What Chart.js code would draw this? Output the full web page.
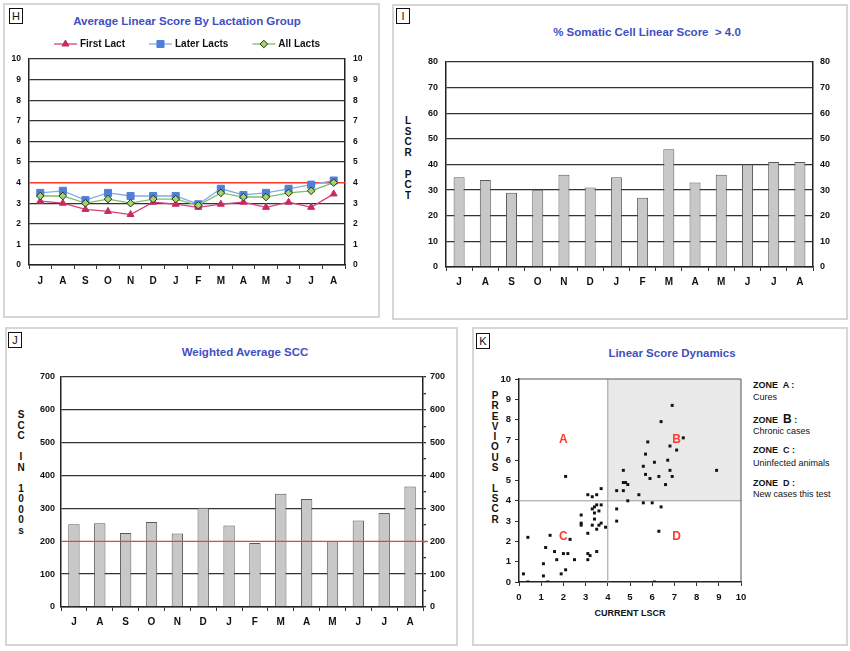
<!DOCTYPE html>
<html>
<head>
<meta charset="utf-8">
<title>Somatic cell summary</title>
<script src="https://cdn.jsdelivr.net/npm/chart.js@4.4.1/dist/chart.umd.min.js"></script>
<style>
  html, body { margin: 0; padding: 0; background: #fff; }
  body { position: relative; width: 850px; height: 651px; overflow: hidden; font-family: "Liberation Sans", Arial, sans-serif; }
  .panel { position: absolute; border: 2px solid #d6d6d6; box-sizing: border-box; }
  .tag { position: absolute; width: 14px; height: 16px; border: 1px solid #111; box-sizing: border-box;
         font-size: 11px; line-height: 14px; text-align: center; color: #111; }
  .title { position: absolute; text-align: center; font-size: 11.5px; font-weight: bold; color: #3f4fc2;
           line-height: 14px; white-space: nowrap; }
  .vlab { position: absolute; width: 20px; text-align: center; font-size: 10px; font-weight: bold; color: #111; }
  .txt { position: absolute; font-size: 9px; line-height: 12px; color: #111; white-space: nowrap; }
  .txt b { font-weight: bold; }
  canvas { position: absolute; }
</style>
</head>
<body>

<div class="panel" style="left:3px;top:3px;width:377px;height:315px"></div>
<div class="panel" style="left:392px;top:4px;width:456px;height:316px"></div>
<div class="panel" style="left:5px;top:327px;width:453px;height:319px"></div>
<div class="panel" style="left:472px;top:327px;width:376px;height:319px"></div>

<div class="tag" style="left:9px;top:8px">H</div>
<div class="tag" style="left:396px;top:8px">I</div>
<div class="tag" style="left:8px;top:332px">J</div>
<div class="tag" style="left:476px;top:333px">K</div>

<div class="title" style="left:0;width:374px;top:14px">Average Linear Score By Lactation Group</div>
<div class="title" style="left:447px;width:400px;top:25px">% Somatic Cell Linear Score&nbsp; &gt; 4.0</div>
<div class="title" style="left:45px;width:400px;top:345px">Weighted Average SCC</div>
<div class="title" style="left:572px;width:200px;top:346px">Linear Score Dynamics</div>

<div class="vlab" style="left:398px;top:116px;line-height:10.7px">L<br>S<br>C<br>R<br><br>P<br>C<br>T</div>
<div class="vlab" style="left:11px;top:410px;line-height:10.5px">S<br>C<br>C<br><br>I<br>N<br><br>1<br>0<br>0<br>0<br>s</div>
<div class="vlab" style="left:485px;top:391px;line-height:10.3px">P<br>R<br>E<br>V<br>I<br>O<br>U<br>S<br><br>L<br>S<br>C<br>R</div>

<div class="txt" style="left:560px;width:140px;top:607px;text-align:center"><b>CURRENT LSCR</b></div>
<div class="txt" style="left:753px;top:379px"><b>ZONE&nbsp; A :</b></div>
<div class="txt" style="left:753px;top:391px">Cures</div>
<div class="txt" style="left:753px;top:413px"><b>ZONE&nbsp; <span style="font-size:12px">B</span> :</b></div>
<div class="txt" style="left:753px;top:425px">Chronic cases</div>
<div class="txt" style="left:753px;top:444px"><b>ZONE&nbsp; C :</b></div>
<div class="txt" style="left:753px;top:457px">Uninfected animals</div>
<div class="txt" style="left:753px;top:477px"><b>ZONE&nbsp; D :</b></div>
<div class="txt" style="left:753px;top:488px">New cases this test</div>

<canvas id="chartH" width="380" height="320" style="left:0;top:0"></canvas>
<canvas id="chartI" width="460" height="320" style="left:390px;top:0"></canvas>
<canvas id="chartJ" width="460" height="331" style="left:0;top:320px"></canvas>
<canvas id="chartK" width="390" height="331" style="left:460px;top:320px"></canvas>

<script>
// Test months, July through the following August
const months = ['J', 'A', 'S', 'O', 'N', 'D', 'J', 'F', 'M', 'A', 'M', 'J', 'J', 'A'];

// H: average linear score by lactation group
const firstLact = [3.1, 3.0, 2.7, 2.6, 2.45, 3.05, 2.95, 2.8, 2.95, 3.05, 2.8, 3.05, 2.8, 3.45];
const laterLacts = [3.5, 3.6, 3.15, 3.5, 3.35, 3.35, 3.35, 2.95, 3.7, 3.4, 3.5, 3.7, 3.9, 4.1];
const allLacts = [3.35, 3.35, 3.0, 3.2, 3.0, 3.2, 3.2, 2.9, 3.5, 3.3, 3.3, 3.5, 3.6, 4.0];
const lsTarget = 4.0;

// I: percent of cows with linear score above 4.0
const lscrPct = [35, 34, 29, 30, 36, 31, 35, 27, 46, 33, 36, 40, 41, 41];

// J: weighted average SCC (1000s)
const sccAvg = [252, 255, 225, 259, 224, 302, 248, 195, 345, 329, 201, 263, 286, 367];
const sccTarget = 200;

// K: current vs previous linear score per cow
const currentLscr = [0.2, 0.4, 0.4, 1.1, 1.1, 1.2, 1.3, 1.4, 1.6, 1.7, 1.9, 2.0, 2.1, 2.1, 2.2, 2.3, 2.5, 2.8, 2.8, 2.8,
  3.1, 3.1, 3.1, 3.2, 3.1, 3.3, 3.3, 3.3, 3.4, 3.4, 3.4, 3.5, 3.5, 3.5, 3.5, 3.6, 3.6, 3.7, 3.7, 3.7,
  3.9, 4.4, 4.4, 4.4, 4.7, 4.7, 4.8, 4.7, 4.9, 4.9, 5.4, 5.6, 5.7, 5.7, 5.6, 5.8, 5.9, 6.0, 6.1, 6.1,
  6.3, 6.3, 6.4, 6.4, 6.6, 6.7, 6.8, 6.8, 6.9, 6.9, 7.1, 7.4, 8.9];
const previousLscr = [0.4, 0, 2.2, 0.9, 0.3, 1.7, 0, 2.3, 1.5, 1.1, 0.4, 1.4, 0.6, 5.2, 1.4, 2.1, 1.1, 3.3, 2.9, 2.8,
  4.3, 2.4, 1.4, 1.3, 1.1, 4.2, 3.6, 2.8, 3.7, 3.4, 3.1, 4.3, 3.8, 2.6, 1.5, 3.5, 2.8, 4.6, 3.8, 2.9,
  2.7, 4.5, 3.6, 3.0, 5.5, 4.9, 4.9, 4.5, 4.8, 4.0, 4.3, 5.7, 6.3, 5.3, 3.9, 6.9, 5.1, 3.9, 5.9, 0,
  5.2, 2.5, 7.9, 3.7, 4.8, 6.0, 6.7, 5.5, 5.2, 8.7, 6.5, 7.1, 5.5];
const zoneLimit = 4;
const zoneNames = ['A', 'B', 'C', 'D'];

const FONT = '"Liberation Sans", Arial, sans-serif';
const INK = '#111';
const GRID = '#333';
const RED = '#ff3b2b';

function tickFont(size) {
    return { family: FONT, size: size, weight: 'bold' };
}

// category axis with small ticks between the months
function monthAxis(height, pad) {
    return {
        type: 'category',
        offset: true,
        grid: { drawOnChartArea: false, drawTicks: true, tickLength: 4, offset: true, color: GRID, lineWidth: 1 },
        border: { display: true, color: '#222', width: 1.5 },
        ticks: { color: INK, font: tickFont(10), padding: pad, maxRotation: 0, autoSkip: false },
        afterFit: function(scale) { scale.height = height; }
    };
}

// value axis; the left one draws the horizontal grid
function valueAxis(position, max, step, width, size, pad, gridColor) {
    return {
        type: 'linear',
        position: position,
        min: 0,
        max: max,
        grid: {
            drawOnChartArea: position === 'left',
            drawTicks: false,
            color: gridColor || GRID,
            lineWidth: 1.3
        },
        border: { display: true, color: '#222', width: 1.5 },
        ticks: { stepSize: step, color: INK, font: tickFont(size), padding: pad },
        afterFit: function(scale) { scale.width = width; }
    };
}

// horizontal reference line (target value)
const targetLine = {
    id: 'targetLine',
    beforeDatasetsDraw(chart, args, opts) {
        if (!opts.onTop) drawTarget(chart, opts);
    },
    afterDatasetsDraw(chart, args, opts) {
        if (opts.onTop) drawTarget(chart, opts);
    }
};

function drawTarget(chart, opts) {
    const area = chart.chartArea;
    const y = chart.scales.y.getPixelForValue(opts.value);
    const ctx = chart.ctx;
    ctx.save();
    ctx.strokeStyle = RED;
    ctx.lineWidth = 1.3;
    ctx.beginPath();
    ctx.moveTo(area.left, y);
    ctx.lineTo(area.right + (opts.extend || 0), y);
    ctx.stroke();
    ctx.restore();
}

// legend with a short line through the marker, as in the source sheet
const lineLegend = {
    id: 'lineLegend',
    afterDraw(chart, args, opts) {
        const ctx = chart.ctx;
        const y = opts.y;
        const gap = 24;
        ctx.save();
        ctx.font = 'bold 10px ' + FONT;
        const items = chart.data.datasets.map(ds => ({ ds: ds, w: 26 + ctx.measureText(ds.label).width }));
        const total = items.reduce((s, it) => s + it.w, 0) + gap * (items.length - 1);
        let x = (chart.chartArea.left + chart.chartArea.right) / 2 - total / 2;
        items.forEach(it => {
            const ds = it.ds;
            ctx.strokeStyle = ds.borderColor;
            ctx.lineWidth = 1.3;
            ctx.beginPath();
            ctx.moveTo(x, y);
            ctx.lineTo(x + 23, y);
            ctx.stroke();
            ctx.fillStyle = ds.pointBackgroundColor;
            ctx.strokeStyle = ds.pointBorderColor;
            ctx.lineWidth = 1;
            Chart.helpers.drawPoint(ctx, { pointStyle: ds.pointStyle, radius: ds.pointRadius, borderWidth: 1, rotation: 0 }, x + 11.5, y);
            ctx.fillStyle = INK;
            ctx.textBaseline = 'middle';
            ctx.textAlign = 'left';
            ctx.fillText(ds.label, x + 26, y);
            x += it.w + gap;
        });
        ctx.restore();
    }
};

// H
new Chart(document.getElementById('chartH'), {
    type: 'line',
    data: {
        labels: months,
        datasets: [
            {
                label: 'First Lact', data: firstLact, order: 1,
                borderColor: '#d8407a', borderWidth: 1.3,
                pointStyle: 'triangle', pointRadius: 4,
                pointBackgroundColor: '#c92a62', pointBorderColor: '#c92a62', pointBorderWidth: 1
            },
            {
                label: 'Later Lacts', data: laterLacts, order: 2,
                borderColor: '#85aaeb', borderWidth: 1.3,
                pointStyle: 'rect', pointRadius: 5,
                pointBackgroundColor: '#4f80d8', pointBorderColor: '#4f80d8', pointBorderWidth: 1
            },
            {
                label: 'All Lacts', data: allLacts, order: 0,
                borderColor: '#7cc062', borderWidth: 1.3,
                pointStyle: 'rectRot', pointRadius: 3.8,
                pointBackgroundColor: '#a5d46e', pointBorderColor: '#26331c', pointBorderWidth: 1
            }
        ]
    },
    options: {
        responsive: false,
        animation: false,
        layout: { padding: { left: 7, right: 10, top: 59, bottom: 30 } },
        scales: {
            x: monthAxis(25, 6),
            y: valueAxis('left', 10, 1, 22, 8.5, 8),
            y2: valueAxis('right', 10, 1, 25, 8.5, 8)
        },
        plugins: {
            legend: { display: false },
            tooltip: { enabled: false },
            targetLine: { value: lsTarget, onTop: false },
            lineLegend: { y: 44 }
        }
    },
    plugins: [targetLine, lineLegend]
});

// I
new Chart(document.getElementById('chartI'), {
    type: 'bar',
    data: {
        labels: months,
        datasets: [{
            label: 'LSCR PCT', data: lscrPct,
            backgroundColor: '#c8c8c8', borderColor: '#5a5a5a', borderWidth: 1,
            categoryPercentage: 1, barPercentage: 0.42
        }]
    },
    options: {
        responsive: false,
        animation: false,
        layout: { padding: { left: 31, right: 10, top: 62, bottom: 28 } },
        scales: {
            x: monthAxis(25, 5),
            y: valueAxis('left', 80, 10, 25, 9, 8),
            y2: valueAxis('right', 80, 10, 27, 9, 7)
        },
        plugins: { legend: { display: false }, tooltip: { enabled: false } }
    }
});

// J
const sccRight = valueAxis('right', 700, 50, 27, 9, 4);
sccRight.grid.drawTicks = true;
sccRight.grid.tickLength = 3;
sccRight.ticks.autoSkip = false;
sccRight.ticks.callback = v => (v % 100 === 0 ? v : '');

new Chart(document.getElementById('chartJ'), {
    type: 'bar',
    data: {
        labels: months,
        datasets: [{
            label: 'SCC IN 1000s', data: sccAvg,
            backgroundColor: '#c8c8c8', borderColor: '#5a5a5a', borderWidth: 1,
            categoryPercentage: 1, barPercentage: 0.44
        }]
    },
    options: {
        responsive: false,
        animation: false,
        layout: { padding: { left: 31, right: 10, top: 57, bottom: 19 } },
        scales: {
            x: monthAxis(25, 5),
            y: valueAxis('left', 700, 100, 30, 9, 6, ctx => (ctx.tick && ctx.tick.value === sccTarget ? 'rgba(0,0,0,0)' : GRID)),
            y2: sccRight
        },
        plugins: {
            legend: { display: false },
            tooltip: { enabled: false },
            targetLine: { value: sccTarget, onTop: true, extend: 5 }
        }
    },
    plugins: [targetLine]
});

// K: shaded chronic zone, zone split lines, frame and zone letters
const zonePlugin = {
    id: 'zonePlugin',
    beforeDatasetsDraw(chart) {
        const ctx = chart.ctx;
        const area = chart.chartArea;
        const x = chart.scales.x, y = chart.scales.y;
        const zx = x.getPixelForValue(zoneLimit), zy = y.getPixelForValue(zoneLimit);
        ctx.save();
        ctx.fillStyle = '#e9e9e9';
        ctx.fillRect(zx, area.top, area.right - zx, zy - area.top);
        ctx.strokeStyle = '#9a9a9a';
        ctx.lineWidth = 1;
        ctx.beginPath();
        ctx.moveTo(zx, area.top); ctx.lineTo(zx, area.bottom);
        ctx.moveTo(area.left, zy); ctx.lineTo(area.right, zy);
        ctx.stroke();
        ctx.strokeStyle = '#555';
        ctx.beginPath();
        ctx.moveTo(area.left, area.top); ctx.lineTo(area.right, area.top); ctx.lineTo(area.right, area.bottom);
        ctx.stroke();
        // letters sit in the middle-ish of each zone
        const spots = { A: [2, 7], B: [7.1, 7], C: [2, 2.25], D: [7.1, 2.25] };
        ctx.fillStyle = RED;
        ctx.font = 'bold 12px ' + FONT;
        ctx.textAlign = 'center';
        ctx.textBaseline = 'middle';
        zoneNames.forEach(n => {
            ctx.fillText(n, x.getPixelForValue(spots[n][0]), y.getPixelForValue(spots[n][1]));
        });
        ctx.restore();
    }
};

function scoreAxis(position, size, width, height) {
    const axis = {
        type: 'linear',
        position: position,
        min: 0,
        max: 10,
        grid: { drawOnChartArea: false, drawTicks: true, tickLength: 4, color: GRID },
        border: { display: true, color: '#222', width: 1.5 },
        ticks: { stepSize: 1, color: INK, font: tickFont(size), padding: position === 'bottom' ? 6 : 4, maxRotation: 0 }
    };
    if (width) axis.afterFit = s => { s.width = width; };
    if (height) axis.afterFit = s => { s.height = height; };
    return axis;
}

new Chart(document.getElementById('chartK'), {
    type: 'scatter',
    data: {
        datasets: [{
            label: 'Cows',
            data: currentLscr.map((v, i) => ({ x: v, y: previousLscr[i] })),
            pointStyle: 'rect', pointRadius: 2.1,
            backgroundColor: '#111', borderColor: '#111', borderWidth: 0
        }]
    },
    options: {
        responsive: false,
        animation: false,
        layout: { padding: { left: 37, right: 109, top: 59, bottom: 47 } },
        scales: {
            x: scoreAxis('bottom', 9.5, 0, 22),
            y: scoreAxis('left', 9.5, 22, 0)
        },
        plugins: { legend: { display: false }, tooltip: { enabled: false } }
    },
    plugins: [zonePlugin]
});
</script>
</body>
</html>
